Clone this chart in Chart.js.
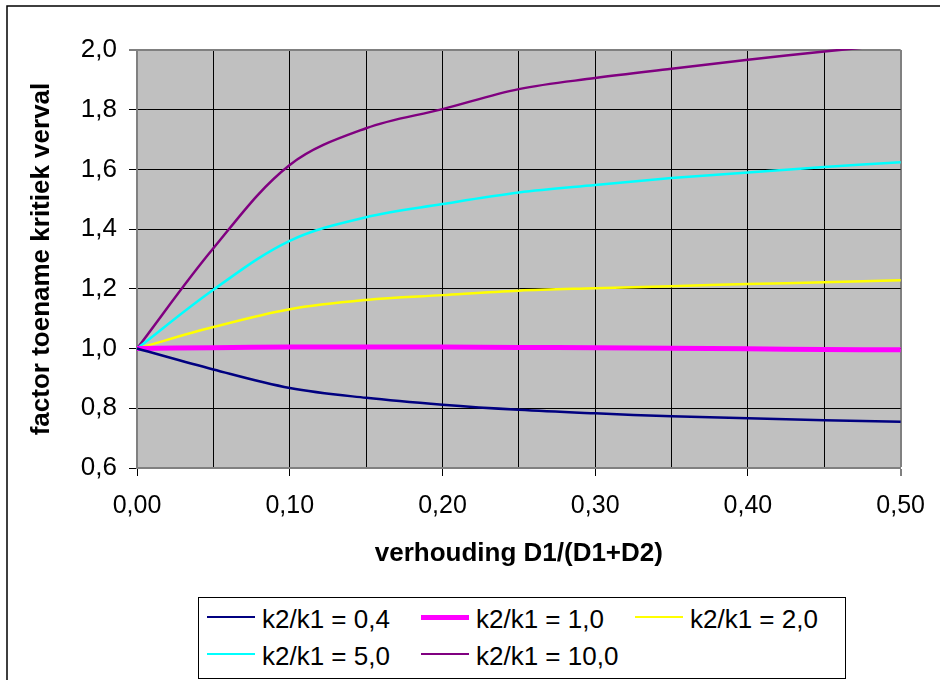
<!DOCTYPE html>
<html>
<head>
<meta charset="utf-8">
<script src="https://cdn.jsdelivr.net/npm/chart.js@4.4.1/dist/chart.umd.min.js"></script>
<style>
  body { margin: 0; background: #fff; }
  #wrap { position: relative; width: 940px; height: 680px; }
  #legend {
    position: absolute; left: 198px; top: 597px; width: 648px; height: 82px;
    box-sizing: border-box; border: 1px solid #000; background: #fff;
    padding: 3px 0 0 8px;
    display: grid; grid-template-columns: 214px 214px 214px; grid-auto-rows: 37px;
    font-family: "Liberation Sans", Arial, sans-serif; font-size: 26px; color: #000;
  }
  #legend .item { display: flex; align-items: center; white-space: nowrap; }
  #legend .swatch { width: 48px; margin-right: 7px; margin-top: -5px; }
</style>
</head>
<body>
<div id="wrap">
  <canvas id="chart" width="940" height="680"></canvas>
  <div id="legend"></div>
</div>
<script>
const xValues = [0, 0.05, 0.10, 0.15, 0.20, 0.25, 0.30, 0.35, 0.40, 0.45, 0.50];

const ratio04  = [1.0, 0.930, 0.868, 0.835, 0.812, 0.795, 0.783, 0.773, 0.767, 0.760, 0.755];
const ratio10  = [1.0, 1.003, 1.005, 1.005, 1.005, 1.004, 1.003, 1.001, 0.999, 0.997, 0.996];
const ratio20  = [1.0, 1.072, 1.132, 1.163, 1.179, 1.194, 1.202, 1.209, 1.216, 1.222, 1.229];
const ratio50  = [1.0, 1.197, 1.361, 1.440, 1.484, 1.523, 1.548, 1.571, 1.590, 1.608, 1.624];
const ratio100 = [1.0, 1.336, 1.615, 1.738, 1.802, 1.869, 1.906, 1.937, 1.967, 1.995, 2.020];

const seriesLabels = ["k2/k1 = 0,4", "k2/k1 = 1,0", "k2/k1 = 2,0", "k2/k1 = 5,0", "k2/k1 = 10,0"];
const seriesColors = ["#000080", "#ff00ff", "#ffff00", "#00ffff", "#800080"];
const seriesWidths = [2.5, 5, 2.5, 2.5, 2.5];
const seriesData = [ratio04, ratio10, ratio20, ratio50, ratio100];

const FONT = '"Liberation Sans", Arial, sans-serif';

function el(id){ return document.getElementById(id); }

function comma(v, digits) {
  return Number(v).toFixed(digits).replace(".", ",");
}

function isTenth(v) {
  return Math.round(v * 100) % 10 === 0;
}

// grey plot area + outer frame
const plotBackground = {
  id: "plotBackground",
  beforeDraw(chart) {
    const { ctx, chartArea: a } = chart;
    ctx.save();
    ctx.fillStyle = "#c0c0c0";
    ctx.fillRect(a.left, a.top, a.right - a.left, a.bottom - a.top);
    ctx.strokeStyle = "#000";
    ctx.lineWidth = 1.5;
    ctx.strokeRect(7, 6, 1200, 1200);
    ctx.restore();
  }
};

const datasets = seriesData.map((data, i) => ({
  label: seriesLabels[i],
  data: data.map((y, j) => ({ x: xValues[j], y })),
  borderColor: seriesColors[i],
  backgroundColor: seriesColors[i],
  borderWidth: seriesWidths[i],
  pointRadius: 0,
  tension: 0.35,
  clip: 1
}));

const chart = new Chart(el("chart"), {
  type: "line",
  data: { datasets },
  options: {
    responsive: false,
    animation: false,
    devicePixelRatio: 1,
    layout: { padding: { left: 22, top: 50, right: 36, bottom: 107 } },
    plugins: {
      legend: { display: false },
      tooltip: { enabled: false }
    },
    scales: {
      x: {
        type: "linear",
        min: 0,
        max: 0.5,
        afterFit(scale) { scale.height = 105; },
        ticks: {
          stepSize: 0.05,
          padding: 15,
          maxRotation: 0,
          autoSkip: false,
          color: "#000",
          font: { family: FONT, size: 25 },
          callback: v => isTenth(v) ? comma(v, 2) : ""
        },
        grid: {
          color: ctx => (ctx.index === 10 ? "#808080" : "#000"),
          lineWidth: ctx => (ctx.index === 10 ? 2 : 1),
          tickColor: ctx => (ctx.tick && isTenth(ctx.tick.value) ? "#000" : "rgba(0,0,0,0)"),
          tickWidth: 1,
          tickLength: 8
        },
        border: { color: "#808080", width: 2 },
        title: {
          display: true,
          text: "verhouding D1/(D1+D2)",
          color: "#000",
          font: { family: FONT, size: 26, weight: "bold" }
        }
      },
      y: {
        min: 0.6,
        max: 2.0,
        afterFit(scale) { scale.width = 115; },
        ticks: {
          stepSize: 0.2,
          padding: 12,
          color: "#000",
          font: { family: FONT, size: 26 },
          callback: v => comma(v, 1)
        },
        grid: {
          color: ctx => (ctx.index === 7 ? "#808080" : "#000"),
          lineWidth: ctx => (ctx.index === 7 ? 2 : 1),
          tickColor: "#000",
          tickWidth: 1,
          tickLength: 8
        },
        border: { color: "#808080", width: 2 },
        title: {
          display: true,
          text: "factor toename kritiek verval",
          color: "#000",
          font: { family: FONT, size: 26, weight: "bold" }
        }
      }
    }
  },
  plugins: [plotBackground]
});

// legend box under the chart, built from the chart's datasets
function buildLegend() {
  const box = el("legend");
  box.innerHTML = "";
  chart.data.datasets.forEach(ds => {
    const item = document.createElement("div");
    item.className = "item";
    const swatch = document.createElement("span");
    swatch.className = "swatch";
    swatch.style.height = ds.borderWidth + "px";
    swatch.style.background = ds.borderColor;
    item.appendChild(swatch);
    item.appendChild(document.createTextNode(ds.label));
    box.appendChild(item);
  });
}

buildLegend();
</script>
</body>
</html>
